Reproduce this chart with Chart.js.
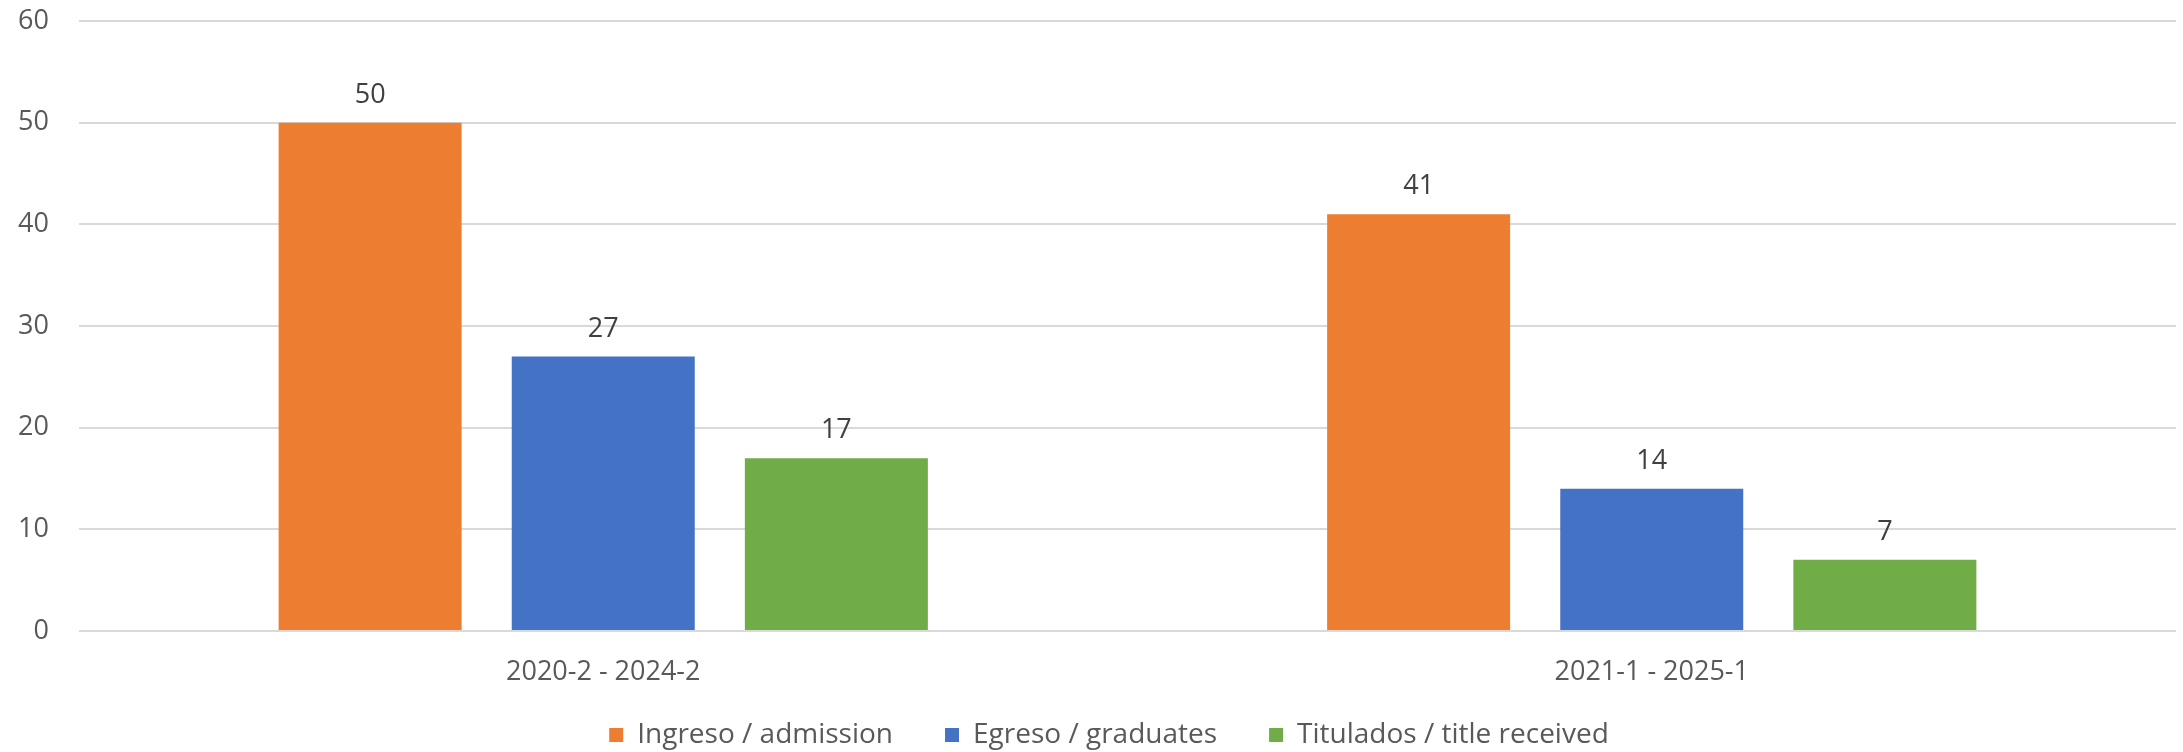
<!DOCTYPE html>
<html>
<head>
<meta charset="utf-8">
<script src="https://cdn.jsdelivr.net/npm/chart.js@4"></script>
<style>
  html, body { margin: 0; padding: 0; background: #fff; }
  #wrap { width: 2183px; height: 752px; }
</style>
</head>
<body>
<div id="wrap"><canvas id="chart" width="2183" height="752"></canvas></div>
<script>
// categorías y series
const periodos = ['2020-2 - 2024-2', '2021-1 - 2025-1'];
const ingreso = [50, 41];
const egreso = [27, 14];
const titulados = [17, 7];
const nombresSeries = ['Ingreso / admission', 'Egreso / graduates', 'Titulados / title received'];
const coloresSeries = ['#ED7D31', '#4472C4', '#70AD47'];
const ticksY = [0, 10, 20, 30, 40, 50, 60];

const FUENTE = "'Open Sans', 'Noto Sans', sans-serif";

// etiquetas de valor encima de cada barra
const etiquetasValor = {
  id: 'etiquetasValor',
  afterDatasetsDraw(chart) {
    const ctx = chart.ctx;
    ctx.save();
    ctx.font = '27px ' + FUENTE;
    ctx.fillStyle = '#404040';
    ctx.textAlign = 'center';
    ctx.textBaseline = 'alphabetic';
    chart.data.datasets.forEach((ds, i) => {
      chart.getDatasetMeta(i).data.forEach((bar, j) => {
        ctx.fillText(ds.data[j], bar.x, bar.y - 20);
      });
    });
    ctx.restore();
  }
};

// ajuste de la leyenda: menos alta en el layout, luego se sube y se corre a la derecha
const ajusteLeyenda = {
  id: 'ajusteLeyenda',
  beforeLayout(chart) {
    const ley = chart.legend;
    if (ley && !ley._ajustada) {
      const fitOriginal = ley.fit;
      ley.fit = function () {
        fitOriginal.call(this);
        this.height -= 25;
      };
      ley._ajustada = true;
    }
  },
  afterLayout(chart) {
    const ley = chart.legend;
    if (ley) {
      ley.top -= 22;
      ley.left += 21;
      ley.right += 21;
    }
  }
};

const series = [ingreso, egreso, titulados];

new Chart(document.getElementById('chart'), {
  type: 'bar',
  data: {
    labels: periodos,
    datasets: series.map((valores, i) => ({
      label: nombresSeries[i],
      data: valores,
      backgroundColor: coloresSeries[i],
      borderWidth: 0,
      categoryPercentage: 0.667,
      barPercentage: 0.785
    }))
  },
  options: {
    responsive: false,
    animation: false,
    layout: { padding: { top: 0, right: 7, left: 0, bottom: -4 } },
    scales: {
      x: {
        grid: { display: false, drawTicks: false },
        border: { display: false },
        ticks: { color: '#595959', font: { family: FUENTE, size: 27 }, padding: 25 },
        afterFit(scale) { scale.height = 60; }
      },
      y: {
        min: 0,
        max: 60,
        afterBuildTicks(scale) { scale.ticks = ticksY.map(v => ({ value: v })); },
        grid: { color: '#d9d9d9', lineWidth: 2, drawTicks: false },
        border: { display: false },
        ticks: { color: '#595959', font: { family: FUENTE, size: 27 }, padding: 30 },
        afterFit(scale) {
          scale.width = 79;
          scale.paddingTop = 21;
        }
      }
    },
    plugins: {
      legend: {
        position: 'bottom',
        labels: {
          color: '#595959',
          font: { family: FUENTE, size: 28 },
          boxWidth: 14,
          boxHeight: 14,
          padding: 52
        }
      },
      tooltip: { enabled: false }
    }
  },
  plugins: [etiquetasValor, ajusteLeyenda]
});
</script>
</body>
</html>
